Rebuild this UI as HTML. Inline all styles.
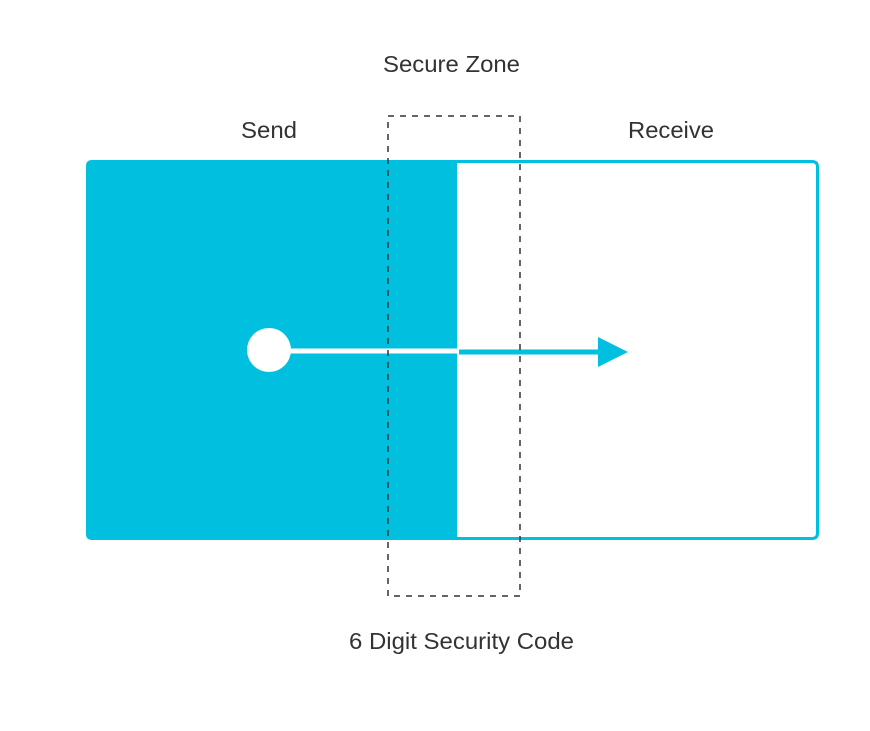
<!DOCTYPE html>
<html><head><meta charset="utf-8"><style>html,body{margin:0;padding:0;background:#fff;width:870px;height:731px;overflow:hidden}</style></head>
<body>
<svg width="870" height="731" viewBox="0 0 870 731" xmlns="http://www.w3.org/2000/svg" font-family="Liberation Sans, sans-serif" font-size="23" fill="#333">
<path d="M92,160 H454 V540 H92 Q86,540 86,534 V166 Q86,160 92,160 Z" fill="#00bfdf"/>
<path d="M455.5,161.5 H812 Q817.5,161.5 817.5,167 V533 Q817.5,538.5 812,538.5 H455.5 Z" fill="#fff" stroke="#00bfdf" stroke-width="3"/>
<line x1="285" y1="351" x2="459" y2="351" stroke="#fff" stroke-width="5"/>
<line x1="459" y1="352" x2="602" y2="352" stroke="#00bfdf" stroke-width="5"/>
<polygon points="598,337 628,352 598,367" fill="#00bfdf"/>
<circle cx="269" cy="350" r="22" fill="#fff"/>
<rect x="388" y="116" width="132" height="480" fill="none" stroke="#333" stroke-width="1.5" stroke-dasharray="6,6"/>
<text x="383" y="72" textLength="137" lengthAdjust="spacingAndGlyphs">Secure Zone</text>
<text x="241" y="138" textLength="56" lengthAdjust="spacingAndGlyphs">Send</text>
<text x="628" y="138" textLength="86" lengthAdjust="spacingAndGlyphs">Receive</text>
<text x="349" y="649" textLength="225" lengthAdjust="spacingAndGlyphs">6 Digit Security Code</text>
</svg>
</body></html>
